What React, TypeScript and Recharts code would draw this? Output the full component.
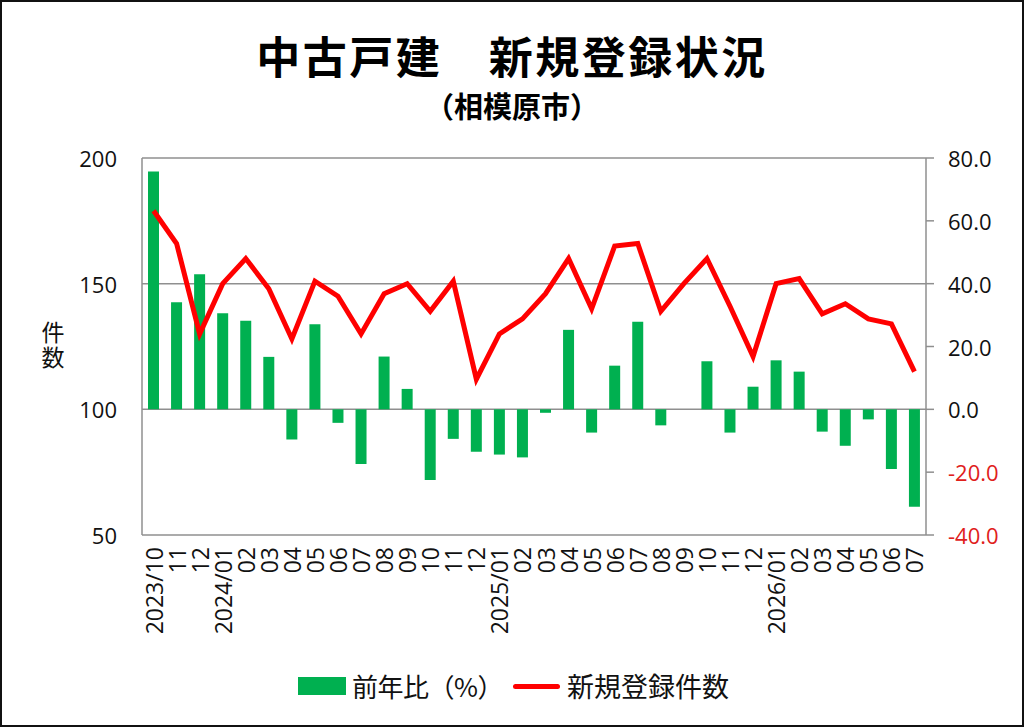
import React from "react";
import { ComposedChart, Bar, Line, XAxis, YAxis, CartesianGrid } from "recharts";

document.body.style.margin = "0";

const months = [
  "2023/10", "11", "12",
  "2024/01", "02", "03", "04", "05", "06", "07", "08", "09", "10", "11", "12",
  "2025/01", "02", "03", "04", "05", "06", "07", "08", "09", "10", "11", "12",
  "2026/01", "02", "03", "04", "05", "06", "07",
];

// 新規登録件数 (left axis)
const listings = [
  179, 166, 130, 150, 160, 148, 128, 151, 145, 130, 146, 150,
  139, 151, 112, 130, 136, 146, 160, 140, 165, 166, 139, 150,
  160, 141, 121, 150, 152, 138, 142, 136, 134, 115,
];

// 前年比 % (right axis)
const yoy = [
  75.7, 34.1, 43.0, 30.6, 28.2, 16.7, -9.6, 27.1, -4.3, -17.4, 16.8, 6.5,
  -22.5, -9.4, -13.5, -14.4, -15.3, -1.1, 25.3, -7.4, 13.9, 27.9, -5.1, 0,
  15.3, -7.4, 7.2, 15.6, 12.0, -7.1, -11.6, -3.2, -19.0, -31.0,
];

const leftTicks = [50, 100, 150, 200];
const rightTicks = [-40, -20, 0, 20, 40, 60, 80];

const data = months.map((label, i) => ({ label, count: listings[i], yoy: yoy[i] }));

const GRID = "#8f8f8f";
const NUM_FONT = "'Open Sans', 'Noto Sans', sans-serif";
const JP_FONT = "'Noto Sans CJK JP', 'Noto Sans', sans-serif";

const MonthTick = (props: any) => {
  const { x, y, payload } = props;
  return (
    <g transform={`translate(${x},${y})`}>
      <text
        transform="rotate(-90)"
        x={-10}
        y={0}
        textAnchor="end"
        dominantBaseline="central"
        fontSize={23}
        fontFamily={NUM_FONT}
        fill="#111"
      >
        {payload.value}
      </text>
    </g>
  );
};

const PctTick = (props: any) => {
  const { x, y, payload } = props;
  const v = Number(payload.value);
  return (
    <text
      x={x}
      y={y}
      textAnchor="start"
      dominantBaseline="central"
      fontSize={22}
      fontFamily={NUM_FONT}
      fill={v < 0 ? "#e0201b" : "#111"}
    >
      {v.toFixed(1)}
    </text>
  );
};

const CountTick = (props: any) => {
  const { x, y, payload } = props;
  return (
    <text
      x={x}
      y={y}
      textAnchor="end"
      dominantBaseline="central"
      fontSize={22}
      fontFamily={NUM_FONT}
      fill="#111"
    >
      {payload.value}
    </text>
  );
};

export default function App() {
  return (
    <div style={{ position: "relative", width: 1024, height: 727, background: "#fff", overflow: "hidden" }}>
      <div
        style={{
          position: "absolute", top: 28, left: 0, width: 1024, textAlign: "center",
          fontFamily: JP_FONT, fontWeight: 700, fontSize: 44, letterSpacing: 2.5, lineHeight: "54px", color: "#000",
        }}
      >
        中古戸建　新規登録状況
      </div>
      <div
        style={{
          position: "absolute", top: 86, left: 0, width: 1024, textAlign: "center",
          fontFamily: JP_FONT, fontWeight: 700, fontSize: 29, lineHeight: "38px", color: "#000",
        }}
      >
        （相模原市）
      </div>
      <div
        style={{
          position: "absolute", top: 321, left: 38, width: 30, height: 56,
          writingMode: "vertical-rl", textOrientation: "upright",
          fontFamily: JP_FONT, fontSize: 23, lineHeight: "30px", letterSpacing: 2, color: "#111",
        }}
      >
        件数
      </div>

      <div style={{ position: "absolute", top: 0, left: 0 }}>
        <ComposedChart width={1024} height={727} data={data} margin={{ top: 158, right: 0, bottom: 0, left: 0 }}>
          <CartesianGrid yAxisId="left" vertical={false} stroke={GRID} strokeWidth={1.5} />
          <XAxis
            dataKey="label"
            interval={0}
            height={192}
            tickSize={0}
            axisLine={false}
            tickLine={false}
            tick={<MonthTick />}
          />
          <YAxis
            yAxisId="left"
            domain={[50, 200]}
            ticks={leftTicks}
            width={142}
            tickSize={0}
            tickMargin={25}
            tickLine={false}
            axisLine={{ stroke: GRID, strokeWidth: 1.5 }}
            tick={<CountTick />}
          />
          <YAxis
            yAxisId="right"
            orientation="right"
            domain={[-40, 80]}
            ticks={rightTicks}
            width={98}
            tickSize={8}
            tickMargin={14}
            tickLine={{ stroke: GRID, strokeWidth: 1.5 }}
            axisLine={{ stroke: GRID, strokeWidth: 1.5 }}
            tick={<PctTick />}
          />
          <Bar yAxisId="right" dataKey="yoy" fill="#00b050" barSize={11} isAnimationActive={false} />
          <Line
            yAxisId="left"
            type="linear"
            dataKey="count"
            stroke="#ff0000"
            strokeWidth={5}
            dot={false}
            isAnimationActive={false}
          />
        </ComposedChart>
      </div>

      <div style={{ position: "absolute", left: 298, top: 677, width: 48, height: 18, background: "#00b050" }} />
      <div
        style={{
          position: "absolute", left: 352, top: 668, fontFamily: JP_FONT, fontSize: 26,
          lineHeight: "36px", color: "#111", whiteSpace: "nowrap", letterSpacing: -0.5,
        }}
      >
        前年比（%）
      </div>
      <div style={{ position: "absolute", left: 513, top: 684, width: 47, height: 5, borderRadius: 3, background: "#ff0000" }} />
      <div
        style={{
          position: "absolute", left: 567, top: 668, fontFamily: JP_FONT, fontSize: 27,
          lineHeight: "36px", color: "#111", whiteSpace: "nowrap",
        }}
      >
        新規登録件数
      </div>

      <div
        style={{
          position: "absolute", top: 0, left: 0, width: 1024, height: 727, boxSizing: "border-box",
          border: "2px solid #111", pointerEvents: "none",
        }}
      />
    </div>
  );
}
